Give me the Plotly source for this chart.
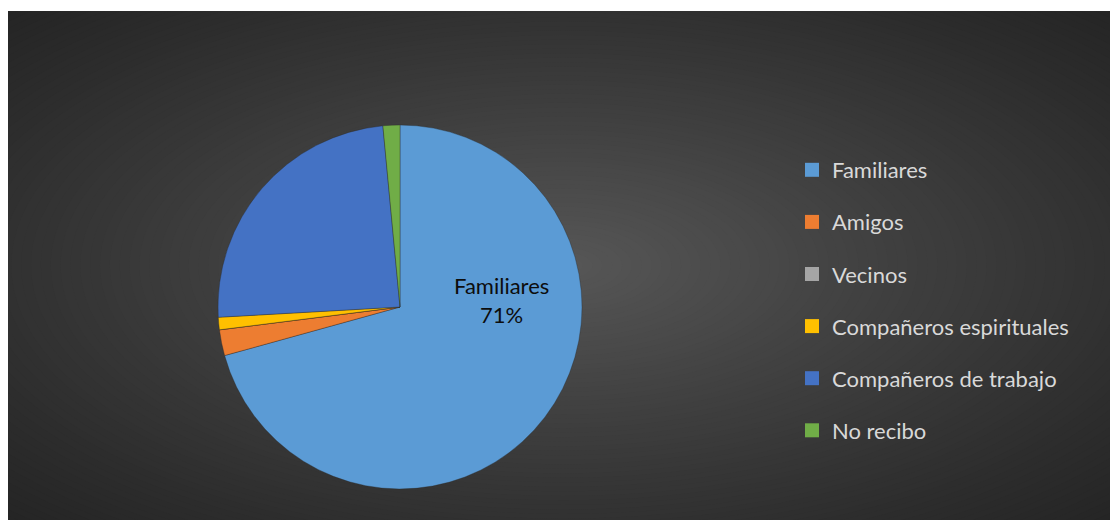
import plotly.graph_objects as go

labels = ["Familiares", "Amigos", "Vecinos", "Compañeros espirituales",
          "Compañeros de trabajo", "No recibo"]
values = [70.7, 2.3, 0.0, 1.1, 24.4, 1.5]
colors = ["#5B9BD5", "#ED7D31", "#A5A5A5", "#FFC000", "#4472C4", "#70AD47"]

# page body adds an 8px margin, so the figure is 8px smaller and shifted
OFF = 8
W, H = 1118 - OFF, 520 - OFF
FONT = "Lato, 'Open Sans', sans-serif"


def px(x):
    return (x - OFF) / W


def py(y):
    return 1 - (y - OFF) / H


fig = go.Figure()

# dark radial-looking background: stacked ellipses, outer dark to inner light
bg_x0, bg_y1 = 0, py(11)
cx, cy = (bg_x0 + 1) / 2, bg_y1 / 2
n_steps = 80
outer, inner = (0x25, 0x25, 0x25), (0x57, 0x57, 0x57)
shapes = [dict(type="rect", xref="paper", yref="paper", x0=bg_x0, x1=1, y0=0, y1=bg_y1,
               fillcolor="#252525", line_width=0, layer="below")]
for i in range(n_steps):
    k = 1 - i / n_steps
    t = (1 - k) ** 1.15
    rgb = tuple(round(o + (n - o) * t) for o, n in zip(outer, inner))
    rx = (1 - bg_x0) / 2 * 1.42 * k
    ry = bg_y1 / 2 * 1.42 * k
    shapes.append(dict(type="circle", xref="paper", yref="paper",
                       x0=cx - rx, x1=cx + rx, y0=cy - ry, y1=cy + ry,
                       fillcolor="rgb(%d,%d,%d)" % rgb, line_width=0, layer="below"))
# white strip above the chart area
shapes.append(dict(type="rect", xref="paper", yref="paper", x0=0, x1=1, y0=bg_y1, y1=1,
                   fillcolor="white", line_width=0, layer="below"))

fig.add_trace(go.Pie(
    labels=labels,
    values=values,
    sort=False,
    direction="clockwise",
    rotation=0,
    marker=dict(colors=colors, line=dict(width=0.6, color="rgba(40,40,40,0.6)")),
    textinfo="none",
    hoverinfo="label+percent",
    showlegend=False,
    domain=dict(x=[px(218), px(582)], y=[py(489), py(125)]),
))

# legend entries as separate groups so the spacing can be opened up
for i, (lab, col) in enumerate(zip(labels, colors)):
    fig.add_trace(go.Scatter(
        x=[None], y=[None], mode="markers", name=lab, legendgroup=str(i),
        marker=dict(symbol="square", size=14, color=col),
    ))

total = sum(values)
pct = round(values[0] / total * 100)
fig.add_annotation(
    x=px(501), y=py(300), xref="paper", yref="paper",
    text=f"{labels[0]}<br>{pct}%", showarrow=False,
    font=dict(family=FONT, size=22, color="#0d0d0d"),
)

fig.update_layout(
    width=W, height=H,
    margin=dict(l=0, r=0, t=0, b=0),
    paper_bgcolor="white",
    plot_bgcolor="rgba(0,0,0,0)",
    shapes=shapes,
    xaxis=dict(visible=False),
    yaxis=dict(visible=False),
    legend=dict(
        x=px(792), xanchor="left", y=py(149), yanchor="top",
        font=dict(family=FONT, size=22, color="#d9d9d9"),
        bgcolor="rgba(0,0,0,0)",
        tracegroupgap=20.5,
        itemwidth=30,
    ),
)

fig.write_html("out.html")
